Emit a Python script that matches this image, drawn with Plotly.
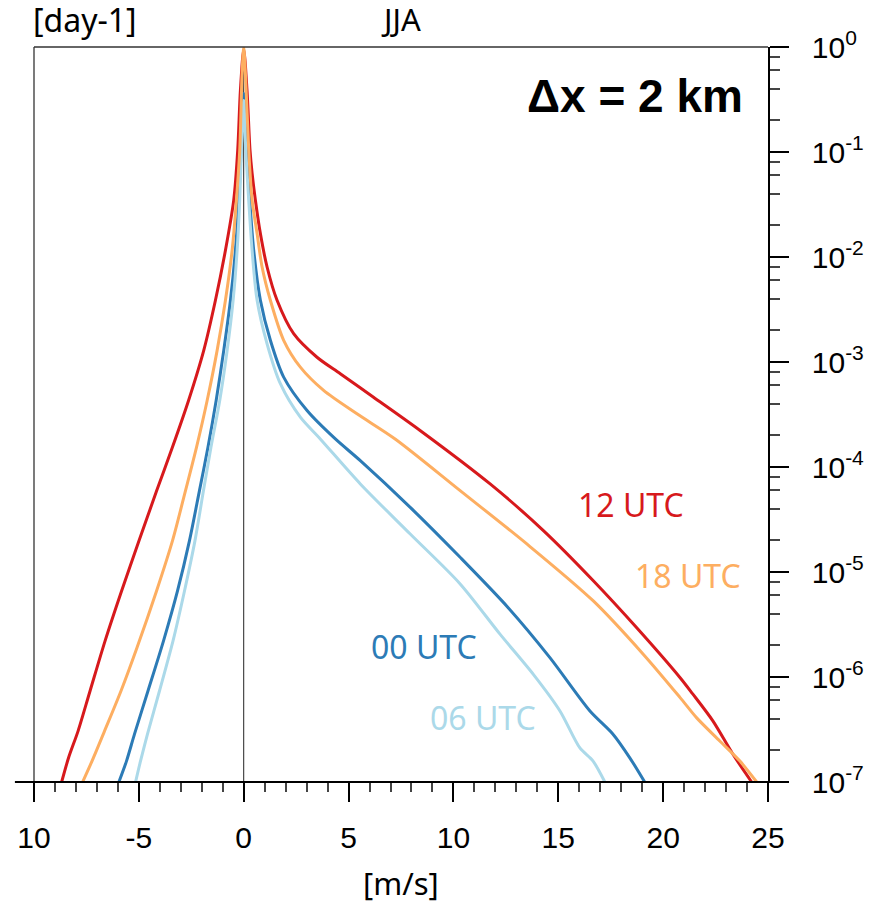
import plotly.graph_objects as go

# ---- data ----
x_ticks = [-10, -5, 0, 5, 10, 15, 20, 25]
x_ticktext = ["10", "-5", "0", "5", "10", "15", "20", "25"]
y_ticks = [1e-7, 1e-6, 1e-5, 1e-4, 1e-3, 1e-2, 1e-1, 1e0]
y_ticktext = ["10<sup>-7</sup>", "10<sup>-6</sup>", "10<sup>-5</sup>", "10<sup>-4</sup>",
              "10<sup>-3</sup>", "10<sup>-2</sup>", "10<sup>-1</sup>", "10<sup>0</sup>"]
y_minor = [m * 10.0 ** e for e in range(-7, 0) for m in (2, 4, 6, 8)]

# 00 UTC
utc00_x = [-5.952, -5.586, -5.205, -4.562, -3.824, -3.157, -2.586, -2.110, -1.705, -1.314,
           -0.952, -0.633, -0.395, -0.238, -0.124, 0,
           0.13, 0.286, 0.476, 0.795, 1.271, 1.905, 3.02, 4.37, 5.56, 7.94, 10.32, 12.60,
           14.60, 16.51, 17.60, 18.41, 19.12]
utc00_y = [1e-7, 1.59e-7, 2.87e-7, 7.4e-7, 2.21e-6, 6.6e-6, 1.99e-5, 5.96e-5, 1.54e-4, 4.3e-4,
           1.29e-3, 3.87e-3, 1.16e-2, 3.48e-2, 0.104, 0.36,
           0.104, 3.48e-2, 1.16e-2, 3.87e-3, 1.61e-3, 7.18e-4, 3.45e-4, 1.85e-4, 1.15e-4,
           4.13e-5, 1.38e-5, 4.6e-6, 1.53e-6, 4.75e-7, 2.87e-7, 1.7e-7, 1e-7]

# 06 UTC
utc06_x = [-5.157, -4.919, -4.586, -4.014, -3.371, -2.824, -2.324, -1.919, -1.562, -1.143,
           -0.79, -0.505, -0.314, -0.19, -0.11, 0,
           0.10, 0.238, 0.40, 0.638, 1.114, 1.748, 2.70, 3.65, 5.56, 7.94, 10.32, 12.22,
           13.81, 15.08, 16.03, 16.65, 17.22]
utc06_y = [1e-7, 1.59e-7, 2.87e-7, 7.4e-7, 2.21e-6, 6.6e-6, 1.99e-5, 5.96e-5, 1.54e-4, 4.3e-4,
           1.29e-3, 3.87e-3, 1.16e-2, 3.48e-2, 0.104, 0.31,
           0.104, 3.48e-2, 1.16e-2, 3.87e-3, 1.49e-3, 6.21e-4, 2.98e-4, 1.85e-4, 6.9e-5,
           2.30e-5, 7.7e-6, 2.56e-6, 1.06e-6, 4.75e-7, 2.11e-7, 1.59e-7, 1e-7]

# 12 UTC
utc12_x = [-8.681, -8.348, -7.895, -7.324, -6.610, -5.824, -4.990, -4.148, -3.40, -2.63,
           -1.905, -1.348, -0.871, -0.476, -0.286, -0.157, 0,
           0.157, 0.30, 0.40, 0.557, 0.795, 1.114, 1.59, 2.381, 3.495, 4.605, 6.19, 8.41,
           11.75, 14.29, 16.67, 18.73, 20.80, 21.41, 22.37, 23.32, 24.22]
utc12_y = [1e-7, 1.71e-7, 3.07e-7, 7.4e-7, 2.21e-6, 6.6e-6, 1.99e-5, 5.96e-5, 1.54e-4, 4.3e-4,
           1.29e-3, 3.87e-3, 1.16e-2, 3.48e-2, 0.104, 0.389, 0.95,
           0.389, 0.104, 6.28e-2, 3.48e-2, 1.67e-2, 8.03e-3, 3.87e-3, 1.86e-3, 1.11e-3,
           7.73e-4, 4.62e-4, 2.23e-4, 6.9e-5, 2.48e-5, 8.26e-6, 2.96e-6, 9.9e-7, 6.9e-7,
           3.82e-7, 1.85e-7, 1e-7]

# 18 UTC
utc18_x = [-7.681, -7.229, -6.633, -5.848, -5.086, -4.157, -3.395, -2.776, -2.252, -1.743,
           -1.267, -0.871, -0.552, -0.348, -0.19, -0.076, 0,
           0.08, 0.24, 0.40, 0.638, 0.876, 1.271, 1.905, 2.70, 3.81, 5.40, 7.22, 10.32,
           13.50, 16.67, 19.05, 20.80, 21.60, 22.70, 23.65, 24.46]
utc18_y = [1e-7, 1.59e-7, 3.07e-7, 7.4e-7, 1.91e-6, 6.6e-6, 1.99e-5, 5.96e-5, 1.54e-4, 4.3e-4,
           1.29e-3, 3.87e-3, 1.16e-2, 3.48e-2, 0.104, 0.565, 1.0,
           0.565, 0.104, 3.48e-2, 1.67e-2, 8.03e-3, 3.87e-3, 1.61e-3, 8.93e-4, 5.36e-4,
           3.21e-4, 1.85e-4, 5.96e-5, 1.85e-5, 5.3e-6, 1.65e-6, 6.4e-7, 4.08e-7, 2.46e-7,
           1.59e-7, 1e-7]

series_names = ["00 UTC", "06 UTC", "12 UTC", "18 UTC"]
series_colors = ["#2c7bb6", "#abd9e9", "#d7191c", "#fdae61"]
series_x = [utc00_x, utc06_x, utc12_x, utc18_x]
series_y = [utc00_y, utc06_y, utc12_y, utc18_y]
# label anchor (x in m/s, log10 of frequency)
label_x = [6.18, 8.99, 16.03, 18.75]
label_logy = [-5.712, -6.389, -4.358, -5.035]

TICKFONT = "Liberation Sans, Arial, Helvetica, sans-serif"
TEXTFONT = "Noto Sans, Open Sans, sans-serif"

fig = go.Figure()
for name, col, xs, ys in zip(series_names, series_colors, series_x, series_y):
    fig.add_trace(go.Scatter(x=xs, y=ys, mode="lines", name=name,
                             line=dict(color=col, width=3, shape="spline", smoothing=0.8),
                             showlegend=False))

for name, col, lx, ly in zip(series_names, series_colors, label_x, label_logy):
    fig.add_annotation(x=lx, y=ly, xref="x", yref="y", text=name, showarrow=False,
                       xanchor="left", yanchor="middle", xshift=-4,
                       font=dict(family=TEXTFONT, size=32, color=col))

# the page body adds an 8px margin; the figure is sized to compensate
fig.update_layout(
    width=873, height=893,
    margin=dict(l=26, r=113, t=39, b=119, pad=0),
    paper_bgcolor="white", plot_bgcolor="white",
    showlegend=False,
    xaxis=dict(range=[-10, 25], tickmode="array", tickvals=x_ticks, ticktext=x_ticktext,
               automargin=False,
               showgrid=False, zeroline=False, showline=False,
               ticks="outside", ticklen=19, tickwidth=2, tickcolor="black",
               ticklabelstandoff=10,
               minor=dict(dtick=1, tick0=0, ticks="outside", ticklen=9, tickwidth=1.5,
                          tickcolor="#444", showgrid=False),
               tickfont=dict(family=TICKFONT, size=30, color="black")),
    yaxis=dict(type="log", range=[-7, 0], side="right", tickmode="array",
               tickvals=y_ticks, ticktext=y_ticktext, automargin=False,
               showgrid=False, zeroline=False, showline=True, linewidth=1.5, linecolor="black",
               ticks="outside", ticklen=19, tickwidth=2, tickcolor="black",
               ticklabelstandoff=17,
               minor=dict(tickmode="array", tickvals=y_minor, ticks="outside", ticklen=10,
                          tickwidth=1.5, tickcolor="#444", showgrid=False),
               tickfont=dict(family=TICKFONT, size=30, color="black")),
)

# frame lines
fig.add_shape(type="line", xref="paper", yref="paper", x0=0, x1=1, y0=1, y1=1,
              line=dict(color="#333", width=1.3))
fig.add_shape(type="line", xref="paper", yref="paper", x0=0, x1=0, y0=0, y1=1,
              line=dict(color="#333", width=1.3))
fig.add_shape(type="line", xref="paper", yref="paper", x0=-0.026, x1=1.026, y0=0, y1=0,
              line=dict(color="black", width=2))
# zero reference line
fig.add_shape(type="line", xref="x", yref="paper", x0=0, x1=0, y0=0, y1=1,
              line=dict(color="#222", width=1), layer="below")

# titles
fig.add_annotation(x=0, y=1.0378, xref="paper", yref="paper", text="[day-1]", showarrow=False,
                   xanchor="left", yanchor="middle", xshift=-3,
                   font=dict(family=TEXTFONT, size=32, color="black"))
fig.add_annotation(x=0.5, y=1.0378, xref="paper", yref="paper", text="JJA", showarrow=False,
                   xanchor="center", yanchor="middle",
                   font=dict(family=TEXTFONT, size=31, color="black"))
fig.add_annotation(x=0.5, y=-0.138, xref="paper", yref="paper", text="[m/s]", showarrow=False,
                   xanchor="center", yanchor="middle",
                   font=dict(family=TEXTFONT, size=31, color="black"))
fig.add_annotation(x=0.9687, y=0.934, xref="paper", yref="paper", text="<b>Δx = 2 km</b>",
                   showarrow=False, xanchor="right", yanchor="middle",
                   font=dict(family=TICKFONT, size=46, color="black"))

fig.write_html("out.html")
